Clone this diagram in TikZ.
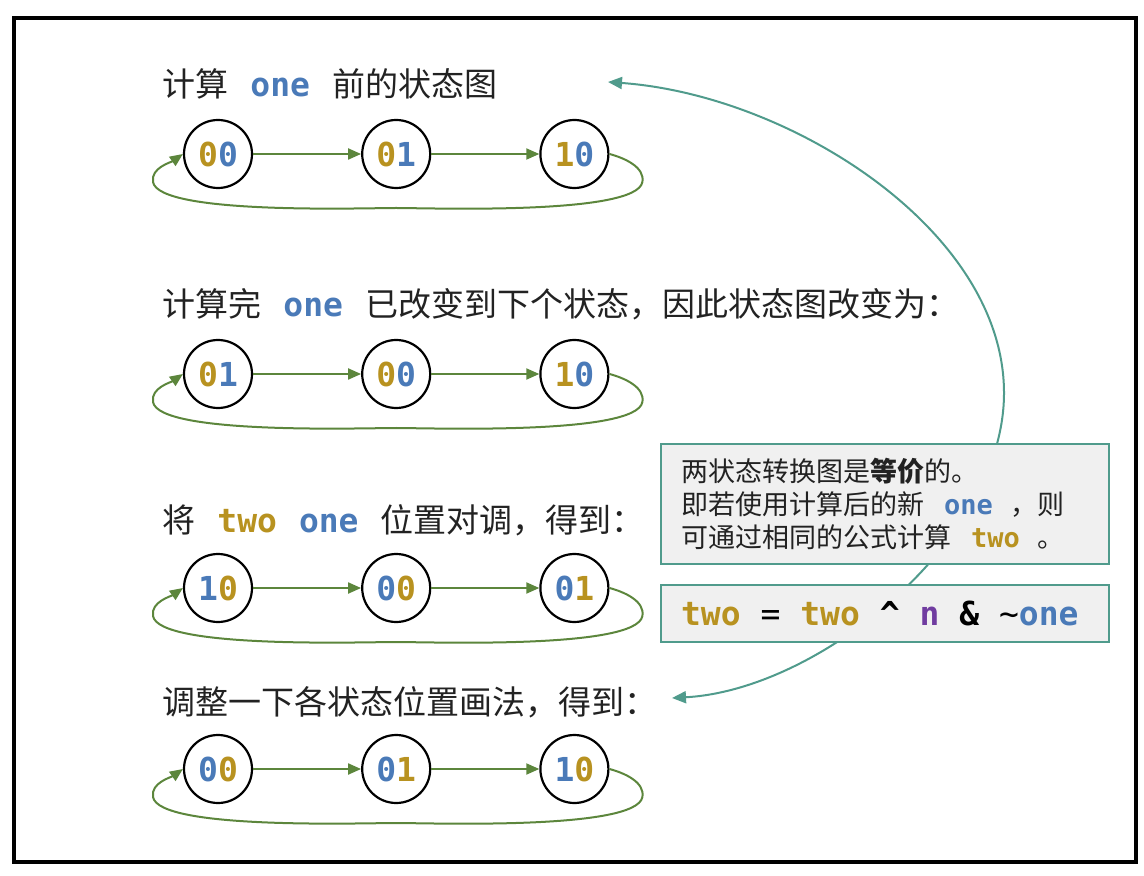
\documentclass[tikz,border=0pt]{standalone}
\usepackage{fontspec}
\setmainfont{Noto Sans CJK SC}
\newfontfamily\codefont{DejaVu Sans Mono}
\usetikzlibrary{arrows.meta,positioning,calc}
\definecolor{ink}{RGB}{34,34,34}
\definecolor{twoc}{RGB}{184,146,32}
\definecolor{onec}{RGB}{74,122,184}
\definecolor{nvar}{RGB}{112,60,160}
\definecolor{edge}{RGB}{92,134,60}
\definecolor{seam}{RGB}{80,155,140}
\definecolor{paper}{RGB}{240,240,240}
\newcommand{\tw}[1]{\textcolor{twoc}{#1}}
\newcommand{\on}[1]{\textcolor{onec}{#1}}
\newcommand{\vone}{{\codefont\bfseries\on{one}}}
\newcommand{\vtwo}{{\codefont\bfseries\tw{two}}}
\newcommand{\gap}{\hspace{11pt}}
\newcommand{\ms}{\hspace{0.602em}}
\tikzset{
  state/.style={circle,draw=black,line width=1.1pt,minimum size=34pt,inner sep=0pt,
    font=\codefont\bfseries\fontsize{16.5}{18}\selectfont},
  title/.style={anchor=base west,inner sep=0pt,text=ink,
    font=\fontsize{16.5}{20}\selectfont},
  go/.style={-{Triangle[length=6.5pt,width=5.5pt]},edge,line width=1pt},
  back/.style={{Triangle[length=7pt,width=6pt]}-{Triangle[length=7pt,width=6pt]},
    seam,line width=1pt},
  note/.style={draw=seam,fill=paper,line width=1.1pt,inner xsep=10pt,inner ysep=0pt,
    text width=204pt,align=left,anchor=north west},
}
\begin{document}
\begin{tikzpicture}[x=0.5pt,y=0.5pt]
  \useasboundingbox (0,0) rectangle (1144,-876);
  \draw[line width=2pt] (14,-18) rectangle (1136,-862);

  % before one is computed
  \node[title] (t1) at (162,-97) {计算\gap\vone\gap 前的状态图};
  \node[state] (a1) at (218,-154) {\tw{0}\on{0}};
  \node[state,right=54pt of a1] (a2) {\tw{0}\on{1}};
  \node[state,right=54pt of a2] (a3) {\tw{1}\on{0}};

  % after one is computed
  \node[title] (t2) at (162,-317) {计算完\gap\vone\gap 已改变到下个状态，因此状态图改变为：};
  \node[state] (b1) at (218,-374) {\tw{0}\on{1}};
  \node[state,right=54pt of b1] (b2) {\tw{0}\on{0}};
  \node[state,right=54pt of b2] (b3) {\tw{1}\on{0}};

  % swap two and one
  \node[title] (t3) at (162,-532) {将\gap\vtwo\gap\vone\gap 位置对调，得到：};
  \node[state] (c1) at (218,-588) {\on{1}\tw{0}};
  \node[state,right=54pt of c1] (c2) {\on{0}\tw{0}};
  \node[state,right=54pt of c2] (c3) {\on{0}\tw{1}};

  % redrawn
  \node[title] (t4) at (162,-714) {调整一下各状态位置画法，得到：};
  \node[state] (d1) at (218,-769) {\on{0}\tw{0}};
  \node[state,right=54pt of d1] (d2) {\on{0}\tw{1}};
  \node[state,right=54pt of d2] (d3) {\on{1}\tw{0}};

  \foreach \r in {a,b,c,d}{
    \draw[go] (\r1) -- (\r2);
    \draw[go] (\r2) -- (\r3);
    \draw[go] (\r3.east) to[out=-15,in=80,looseness=0.9] ($(\r3)+(68,-28)$)
      to[out=-100,in=0,looseness=0.35] ($(\r2)+(0,-54)$)
      to[out=180,in=-80,looseness=0.35] ($(\r1)+(-65,-28)$)
      to[out=100,in=215,looseness=0.9] (\r1.west);
  }

  % equivalence
  \coordinate (uptip) at (608,-82);
  \coordinate (lowtip) at (672,-698);
  \coordinate (bend) at (1004,-393);
  \draw[back] (lowtip) .. controls (820,-690) and (1004,-540) .. (bend)
    .. controls (1004,-230) and (790,-95) .. (uptip);

  \node[note,minimum height=60pt,font=\fontsize{13.5}{16.5}\selectfont,text=ink]
    (eqv) at (660,-443) {两状态转换图是\textbf{等价}的。\\
    即若使用计算后的新\hspace{10pt}\vone\hspace{9pt}，则\\
    可通过相同的公式计算\hspace{10pt}\vtwo\hspace{9pt}。};
  \node[note,minimum height=28.5pt,font=\codefont\fontsize{16.5}{20}\selectfont]
    (fml) at (660,-584) {\textbf{\tw{two}}\ms=\ms\textbf{\tw{two}}\ms\textbf{\textasciicircum}\ms%
    \textbf{\textcolor{nvar}{n}}\ms\textbf{\&}\ms\textasciitilde\textbf{\on{one}}};
\end{tikzpicture}
\end{document}
